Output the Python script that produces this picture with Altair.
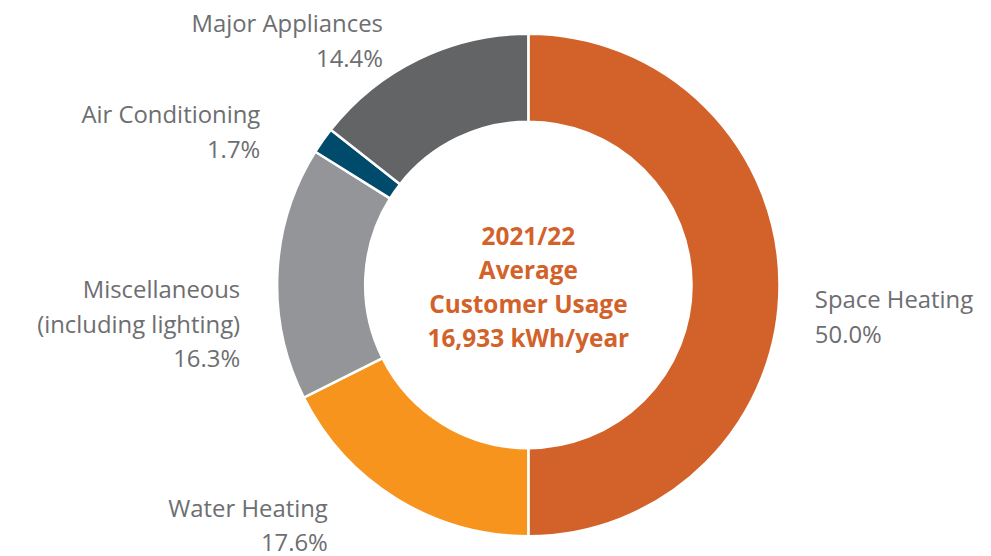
import altair as alt
import pandas as pd

# ---- data ----
categories = ["Space Heating", "Water Heating", "Miscellaneous", "Air Conditioning", "Major Appliances"]
label_names = ["Space Heating", "Water Heating", "Miscellaneous\n(including lighting)", "Air Conditioning", "Major Appliances"]
values = [50.0, 17.6, 16.3, 1.7, 14.4]
colors = ["#D2622A", "#F7941D", "#939598", "#004B6B", "#636466"]
center_lines = ["2021/22", "Average", "Customer Usage", "16,933 kWh/year"]

df = pd.DataFrame({
    "idx": list(range(len(categories))),
    "category": categories,
    "value": values,
    "label": [f"{n}\n{v:.1f}%" for n, v in zip(label_names, values)],
})

LABEL_COLOR = "#6D6E71"
FONT = "Open Sans"
dom = alt.Scale(domain=[0, 100])

base = alt.Chart(df).transform_window(
    cum="sum(value)", sort=[{"field": "idx"}], frame=[None, 0]
).transform_calculate(mid="datum.cum - datum.value / 2")

arcs = base.mark_arc(outerRadius=252.5, innerRadius=164, stroke="white", strokeWidth=2.5).encode(
    theta=alt.Theta("value:Q", stack=True, scale=dom),
    order=alt.Order("idx:Q"),
    color=alt.Color("category:N", scale=alt.Scale(domain=categories, range=colors), legend=None),
)

# per-label offsets (alignment, dx, dy)
placement = {
    "Space Heating": ("left", -12, 23.5),
    "Water Heating": ("right", -44, -22),
    "Miscellaneous": ("right", 10, 27.5),
    "Air Conditioning": ("right", -24, 10),
    "Major Appliances": ("right", -15, 16),
}

layers = [arcs]
for cat, (al, dx, dy) in placement.items():
    layers.append(
        base.transform_filter(alt.datum.category == cat).mark_text(
            radius=300, align=al, baseline="alphabetic", dx=dx, dy=dy,
            lineBreak="\n", lineHeight=34.5, font=FONT, fontSize=24, color=LABEL_COLOR,
        ).encode(
            theta=alt.Theta("mid:Q", stack=False, scale=dom),
            text="label:N",
        )
    )

center = alt.Chart(pd.DataFrame({"t": ["\n".join(center_lines)]})).mark_text(
    align="center", baseline="alphabetic", dy=-40.5, lineBreak="\n", lineHeight=34.3,
    font=FONT, fontSize=24.5, fontWeight="bold", color="#D2622A",
).encode(text="t:N")
layers.append(center)

chart = alt.layer(*layers).properties(
    width=900, height=540,
    autosize=alt.AutoSizeParams(type="none"),
    padding={"left": 73, "top": 7, "right": 7, "bottom": 0},
).configure_view(stroke=None)

chart.save("out.html", embed_options={"renderer": "svg", "actions": False})
